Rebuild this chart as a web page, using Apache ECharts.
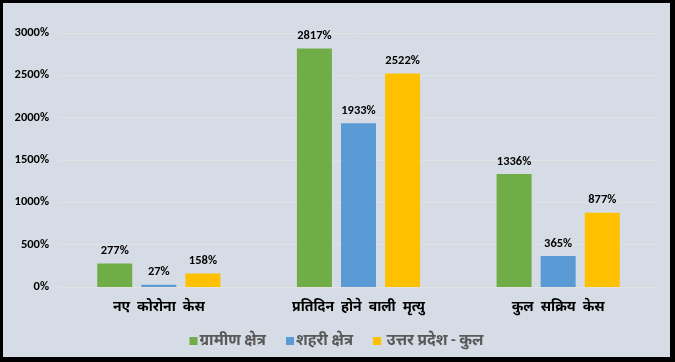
<!DOCTYPE html>
<html><head><meta charset="utf-8">
<script src="https://cdn.jsdelivr.net/npm/echarts@6/dist/echarts.min.js"></script>
<style>html,body{margin:0;padding:0;background:#000;}#c{position:absolute;left:3px;top:3px;width:667px;height:354px;background:#d6dce5;}</style>
</head><body><div id="c"></div>
<script>
const categories = ['नए कोरोना केस', 'प्रतिदिन होने वाली मृत्यु', 'कुल सक्रिय केस'];
const seriesNames = ['ग्रामीण क्षेत्र', 'शहरी क्षेत्र', ' उत्तर प्रदेश - कुल'];
const rural = [277, 2817, 1336];
const urban = [27, 1933, 365];
const upTotal = [158, 2522, 877];
const colors = ['#70ad47', '#5b9bd5', '#ffc000'];
const font = 'Calibri, Carlito, "Liberation Sans", "Noto Sans", sans-serif';
const chart = echarts.init(document.getElementById('c'));
const mk = (name, data, color) => ({
  name, type: 'bar', data, barWidth: 35, barGap: '26%',
  itemStyle: { color },
  label: { show: true, position: 'top', formatter: p => p.value + '%', color: '#000', fontWeight: 'bold', fontSize: 12.5, fontFamily: font, distance: 6 }
});
chart.setOption({
  animation: false,
  grid: { left: 56, right: 12, top: 30, bottom: 70 },
  legend: {
    bottom: 3, left: 'center', itemWidth: 8, itemHeight: 8, itemGap: 20,
    icon: 'rect',
    textStyle: { color: '#595959', fontSize: 15.5, fontWeight: 'bold', fontFamily: font, padding: [0, 0, 0, -3] }
  },
  xAxis: {
    type: 'category', data: categories,
    axisLine: { show: false }, axisTick: { show: false },
    axisLabel: { color: '#000', fontSize: 14, fontWeight: 'bold', fontFamily: font, margin: 13,
      formatter: v => v.split(' ').join('\u2002') }
  },
  yAxis: {
    type: 'value', min: 0, max: 3000, interval: 500,
    axisLabel: { formatter: v => v + '%', color: '#000', fontSize: 12.5, fontWeight: 'bold', fontFamily: font, margin: 10 },
    splitLine: { lineStyle: { color: '#e2e2e2', width: 1 } },
    axisLine: { show: false }, axisTick: { show: false }
  },
  series: [mk(seriesNames[0], rural, colors[0]), mk(seriesNames[1], urban, colors[1]), mk(seriesNames[2], upTotal, colors[2])]
});
</script></body></html>
